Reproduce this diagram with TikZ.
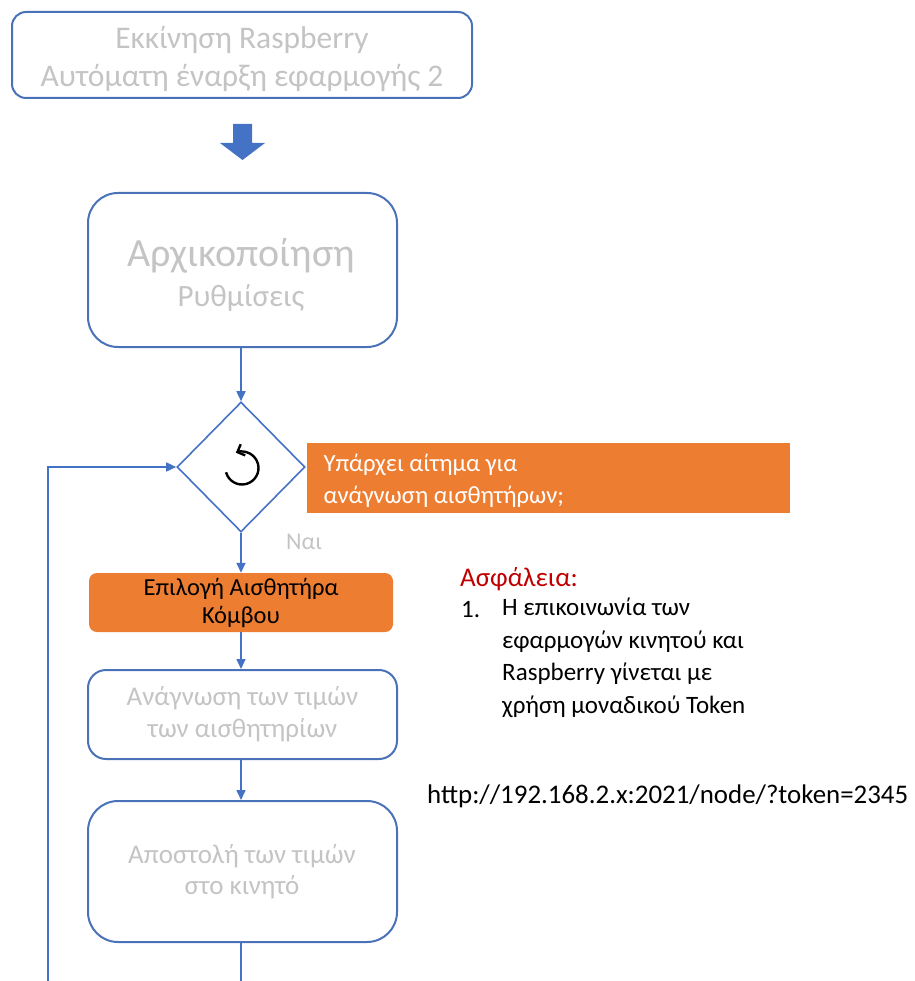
\documentclass[tikz,border=0pt]{standalone}
\usepackage{fontspec}
\setmainfont{Carlito}
\usetikzlibrary{shapes.geometric,arrows.meta}
\definecolor{bl}{HTML}{4472C4}
\definecolor{bord}{HTML}{4A72B8}
\definecolor{org}{HTML}{ED7D31}
\definecolor{lg}{HTML}{C4C4C4}
\definecolor{redt}{HTML}{C00000}
\tikzset{
  fbox/.style={draw=bord, line width=2pt, rounded corners=#1, fill=white, inner sep=0pt, align=center, text=lg},
  obox/.style={fill=org, inner sep=0pt},
  conn/.style={draw=bl, line width=1.6pt, -{Triangle[length=10pt,width=9pt]}},
  plain/.style={draw=bl, line width=1.6pt},
}
\begin{document}
\begin{tikzpicture}[x=1pt,y=-1pt]
\useasboundingbox (0,0) rectangle (914,981);
% box 1
\node[fbox=14pt, minimum width=460pt, minimum height=86pt] (b1) at (242,55) {};
\node[text=lg, align=center, font=\fontsize{31.5}{38}\selectfont] (t1) at (242,59) {Εκκίνηση Raspberry\\Αυτόματη έναρξη εφαρμογής 2};
% block arrow
\fill[bl] (233,124) -- (252,124) -- (252,143) -- (265,143) -- (242.5,160) -- (220,143) -- (233,143) -- cycle;
% box 2
\node[fbox=30pt, minimum width=309pt, minimum height=154pt] (b2) at (242.5,270) {};
\node[text=lg, font=\fontsize{40}{44}\selectfont] (t2a) at (241,256) {Αρχικοποίηση};
\node[text=lg, font=\fontsize{31}{34}\selectfont] (t2b) at (241,298) {Ρυθμίσεις};
% diamond
\node[diamond, draw=bl, line width=1.6pt, minimum width=128pt, minimum height=130pt, inner sep=0pt] (dia) at (241,467) {};
\draw[line width=2.4pt, -{Straight Barb[length=6pt,width=12pt]}] (242,468) ++(165:16.5) arc[start angle=165, end angle=-112, radius=16.5];
% orange box 1
\node[obox, minimum width=483pt, minimum height=70pt] (o1) at (548.5,478) {};
\node[text=white, anchor=west, align=left, font=\fontsize{24.7}{32}\selectfont] (t3) at (320,481) {Υπάρχει αίτημα για\\ανάγνωση αισθητήρων;};
% Nai
\node[text=lg, font=\fontsize{24}{26}\selectfont] (nai) at (304,542) {Ναι};
% orange box 2
\node[obox, rounded corners=8pt, minimum width=304pt, minimum height=59pt, align=center, font=\fontsize{24.5}{28}\selectfont] (o2) at (241,602.5) {Επιλογή Αισθητήρα\\Κόμβου};
% box 3
\node[fbox=18pt, minimum width=309pt, minimum height=89pt, font=\fontsize{27}{32}\selectfont] (b3) at (242.5,714.5) {Ανάγνωση των τιμών\\των αισθητηρίων};
% box 4
\node[fbox=30pt, minimum width=309pt, minimum height=141pt] (b4) at (242.5,871.5) {};
\node[text=lg, align=center, font=\fontsize{27}{31}\selectfont] (t4) at (242,872) {Αποστολή των τιμών\\στο κινητό};
% connectors
\draw[conn] (b2.south -| dia.north) -- (dia.north);
\draw[conn] (dia.south) -- (o2.north -| dia.south);
\draw[conn] (o2.south -| dia.south) -- (b3.north -| dia.south);
\draw[conn] (b3.south -| dia.south) -- (b4.north -| dia.south);
\coordinate (lb) at (241,1000);
\coordinate (ll) at (48,1000);
\draw[plain] (b4.south -| lb) -- (lb) -- (ll);
\draw[conn] (ll) |- (dia.west);
% right texts
\node[text=redt, anchor=base west, inner sep=0pt, font=\fontsize{27}{28}\selectfont] (asf) at (460,586) {Ασφάλεια:};
\node[anchor=base west, inner sep=0pt, font=\fontsize{25}{28}\selectfont] (n1) at (461,617) {1.};
\node[anchor=north west, align=left, inner sep=0pt, font=\fontsize{25}{32.4}\selectfont] (it) at (502,598) {Η επικοινωνία των\\εφαρμογών κινητού και\\Raspberry γίνεται με\\χρήση μοναδικού Token};
\node[anchor=base west, inner sep=0pt, font=\fontsize{26.9}{28}\selectfont] (url) at (427,803) {http://192.168.2.x:2021/node/?token=2345};
\end{tikzpicture}
\end{document}
